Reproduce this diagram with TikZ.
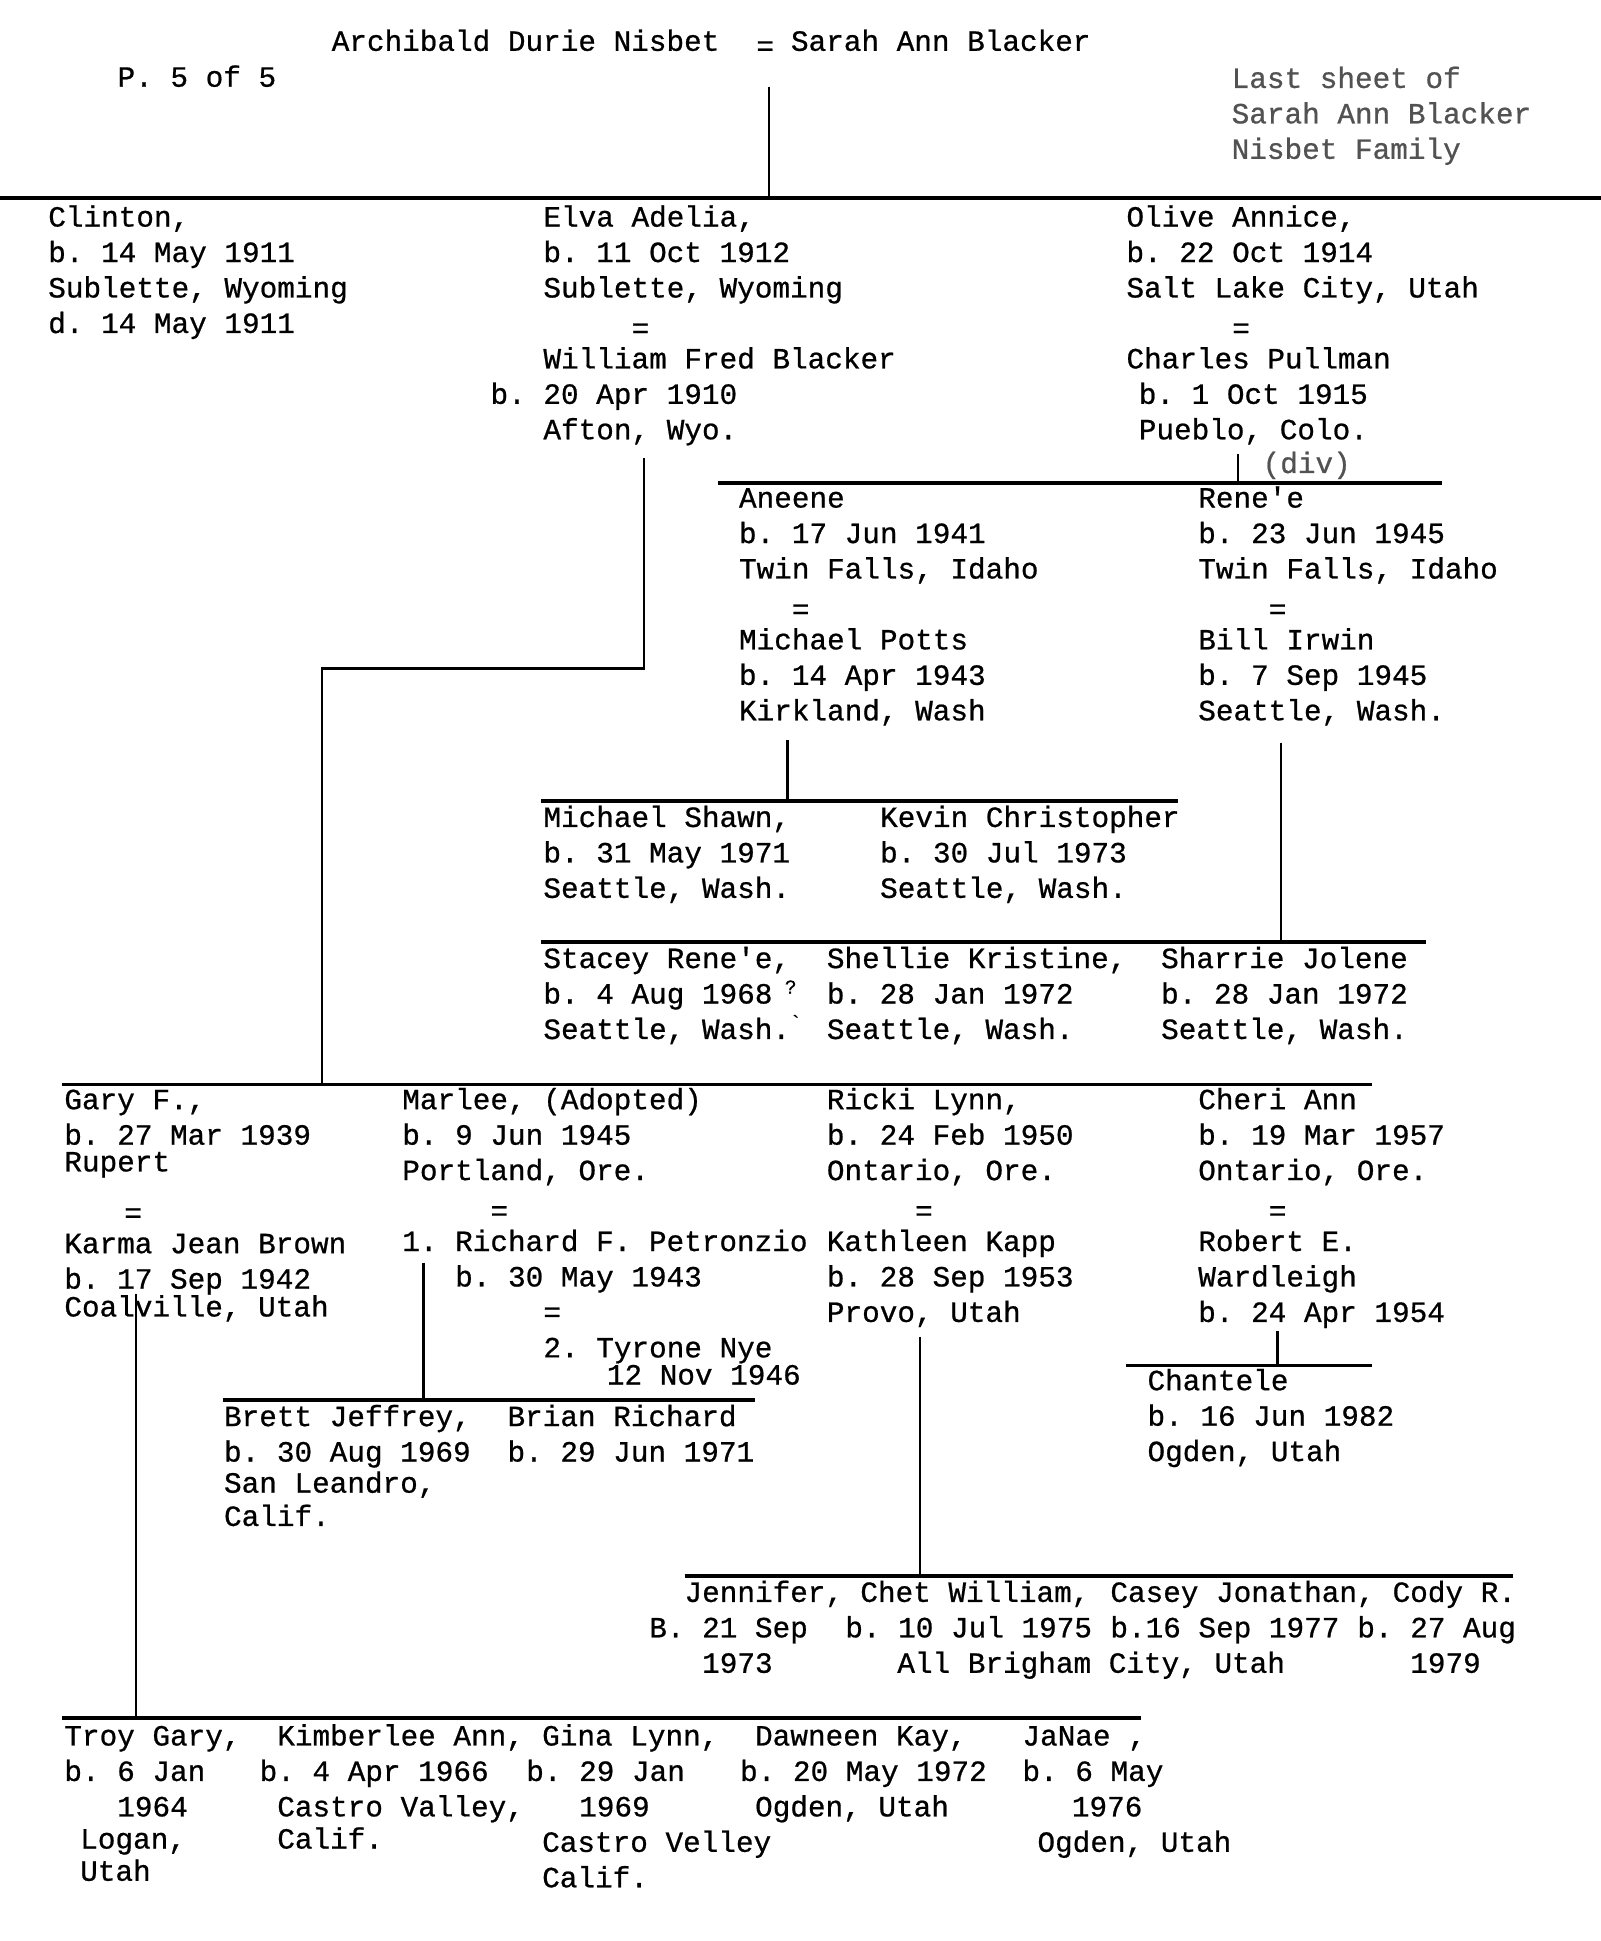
\documentclass[tikz,border=0pt]{standalone}
\usepackage{fontspec}
\setmonofont{Liberation Mono}[FakeBold=0.7]
\newlength\cw
\setlength\cw{0.285cm}
\newcommand\ind[1]{\hspace*{#1\cw}}
\newcommand\eqs{\raisebox{-2.3pt}{=}}
\tikzset{
  person/.style={anchor=north west, inner sep=0pt, outer sep=0pt, align=left,
    font=\ttfamily\fontsize{13.5pt}{16.3pt}\selectfont\frenchspacing},
  faint/.style={person, text=black!68},
  tinymark/.style={person, font=\ttfamily\fontsize{9pt}{10pt}\selectfont},
  hline/.style={line width=1.6pt, black},
  vline/.style={line width=1.1pt, black}
}
\begin{document}
\begin{tikzpicture}[x=0.02cm, y=-0.02cm]
\fill[white] (0,0) rectangle (1293,1568);
\useasboundingbox (0,0) rectangle (1293,1568);

% ---------- header ----------
\node[person] (adn) at (268,21) {\strut Archibald Durie Nisbet};
\node[person] (eqtop) at (611,25) {\strut =};
\node[person] (sab) at (639,21) {\strut Sarah Ann Blacker};
\node[person] (page) at (95,50) {\strut P. 5 of 5};
\node[faint] (note) at (995,51) {\strut Last sheet of\\Sarah Ann Blacker\\Nisbet Family};

\coordinate (p0) at (621,70);
\coordinate (p1) at (621,160);
\coordinate (b0w) at (0,160);
\coordinate (b0e) at (1293,160);
\draw[vline] (p0) -- (p1);
\draw[hline] (b0w) -- (b0e);

% ---------- children of A.D. Nisbet ----------
\node[person] (clinton) at (39,163) {\strut Clinton,\\b. 14 May 1911\\Sublette, Wyoming\\d. 14 May 1911};
\node[person] (elva) at (439,163) {\strut Elva Adelia,\\b. 11 Oct 1912\\Sublette, Wyoming\\\ind{5}\eqs\\William Fred Blacker\\\ind{-3}b. 20 Apr 1910\\Afton, Wyo.};
\node[person] (olive) at (910,163) {\strut Olive Annice,\\b. 22 Oct 1914\\Salt Lake City, Utah\\\ind{6}\eqs\\Charles Pullman\\\ind{0.7}b. 1 Oct 1915\\\ind{0.7}Pueblo, Colo.};
\node[faint] (div) at (1020,362) {\strut (div)};

% Olive's children
\coordinate (o1) at (1000,367);
\coordinate (o2) at (1000,390);
\coordinate (b1w) at (580,390);
\coordinate (b1e) at (1165,390);
\draw[vline] (o1) -- (o2);
\draw[hline] (b1w) -- (b1e);

\node[person] (aneene) at (597,390) {\strut Aneene\\b. 17 Jun 1941\\Twin Falls, Idaho\\\ind{3}\eqs\\Michael Potts\\b. 14 Apr 1943\\Kirkland, Wash};
\node[person] (renee) at (968,390) {\strut Rene'e\\b. 23 Jun 1945\\Twin Falls, Idaho\\\ind{4}\eqs\\Bill Irwin\\b. 7 Sep 1945\\Seattle, Wash.};

% Aneene's children
\coordinate (a1) at (636,598);
\coordinate (a2) at (636,647);
\coordinate (b2w) at (437,647);
\coordinate (b2e) at (952,647);
\draw[vline] (a1) -- (a2);
\draw[hline] (b2w) -- (b2e);
\node[person] (mshawn) at (439,648) {\strut Michael Shawn,\\b. 31 May 1971\\Seattle, Wash.};
\node[person] (kevin) at (711,648) {\strut Kevin Christopher\\b. 30 Jul 1973\\Seattle, Wash.};

% Rene'e's children
\coordinate (r1) at (1035,600);
\coordinate (r2) at (1035,761);
\coordinate (b3w) at (437,761);
\coordinate (b3e) at (1152,761);
\draw[vline] (r1) -- (r2);
\draw[hline] (b3w) -- (b3e);
\node[person] (stacey) at (439,762) {\strut Stacey Rene'e,\\b. 4 Aug 1968\\Seattle, Wash.};
\node[tinymark] (qm) at (634,792) {?};
\node[tinymark] (bq) at (638,820) {`};
\node[person] (shellie) at (668,762) {\strut Shellie Kristine,\\b. 28 Jan 1972\\Seattle, Wash.};
\node[person] (sharrie) at (938,762) {\strut Sharrie Jolene\\b. 28 Jan 1972\\Seattle, Wash.};

% Elva's children
\coordinate (e1) at (520,370);
\coordinate (e2) at (520,540);
\coordinate (e3) at (260,540);
\coordinate (e4) at (260,876);
\coordinate (b4w) at (50,876);
\coordinate (b4e) at (1108,876);
\draw[vline] (e1) -- (e2) -- (e3) -- (e4);
\draw[hline] (b4w) -- (b4e);

\node[person] (gary) at (52,876) {\strut Gary F.,\\b. 27 Mar 1939\\[-4pt]Rupert\\[5pt]\ind{3.4}\eqs\\Karma Jean Brown\\b. 17 Sep 1942\\[-3.5pt]Coalville, Utah};
\node[person] (marlee) at (325,876) {\strut Marlee, (Adopted)\\b. 9 Jun 1945\\Portland, Ore.\\\ind{5}\eqs\\1. Richard F. Petronzio\\\ind{3}b. 30 May 1943\\\ind{8}=\\\ind{8}2. Tyrone Nye\\[-3.8pt]\ind{11.6}12 Nov 1946};
\node[person] (ricki) at (668,876) {\strut Ricki Lynn,\\b. 24 Feb 1950\\Ontario, Ore.\\\ind{5}\eqs\\Kathleen Kapp\\b. 28 Sep 1953\\Provo, Utah};
\node[person] (cheri) at (968,876) {\strut Cheri Ann\\b. 19 Mar 1957\\Ontario, Ore.\\\ind{4}\eqs\\Robert E.\\Wardleigh\\b. 24 Apr 1954};

% Cheri's child
\coordinate (c1) at (1032,1075);
\coordinate (c2) at (1032,1103);
\coordinate (b5w) at (910,1103);
\coordinate (b5e) at (1108,1103);
\draw[vline] (c1) -- (c2);
\draw[hline] (b5w) -- (b5e);
\node[person] (chantele) at (927,1103) {\strut Chantele\\b. 16 Jun 1982\\Ogden, Utah};

% Marlee's children
\coordinate (m1) at (342,1020);
\coordinate (m2) at (342,1131);
\coordinate (b6w) at (180,1131);
\coordinate (b6e) at (610,1131);
\draw[vline] (m1) -- (m2);
\draw[hline] (b6w) -- (b6e);
\node[person] (brett) at (181,1132) {\strut Brett Jeffrey,\\b. 30 Aug 1969\\[-2pt]San Leandro,\\[-1pt]Calif.};
\node[person] (brian) at (410,1132) {\strut Brian Richard\\b. 29 Jun 1971};

% Ricki's children
\coordinate (k1) at (743,1080);
\coordinate (k2) at (743,1273);
\coordinate (b7w) at (553,1273);
\coordinate (b7e) at (1222,1273);
\draw[vline] (k1) -- (k2);
\draw[hline] (b7w) -- (b7e);
\node[person] (jennifer) at (553,1274) {\strut Jennifer,\\\ind{-2}B. 21 Sep\\\ind{1}1973};
\node[person] (chet) at (695,1274) {\strut Chet William,\\\ind{-0.85}b. 10 Jul 1975\\\ind{2.1}All Brigham City, Utah};
\node[person] (casey) at (897,1274) {\strut Casey Jonathan,\\b.16 Sep 1977};
\node[person] (cody) at (1125,1274) {\strut Cody R.\\\ind{-2}b. 27 Aug\\\ind{1}1979};

% Gary's children
\coordinate (g1) at (110,1045);
\coordinate (g2) at (110,1388);
\coordinate (b8w) at (50,1388);
\coordinate (b8e) at (922,1388);
\draw[vline] (g1) -- (g2);
\draw[hline] (b8w) -- (b8e);
\node[person] (troy) at (52,1390) {\strut Troy Gary,\\b. 6 Jan\\\ind{3}1964\\[-1.5pt]\ind{0.9}Logan,\\[-1.5pt]\ind{0.9}Utah};
\node[person] (kimberlee) at (224,1390) {\strut Kimberlee Ann,\\\ind{-1}b. 4 Apr 1966\\Castro Valley,\\[-1.5pt]Calif.};
\node[person] (gina) at (438,1390) {\strut Gina Lynn,\\\ind{-0.9}b. 29 Jan\\\ind{2.1}1969\\Castro Velley\\Calif.};
\node[person] (dawneen) at (610,1390) {\strut Dawneen Kay,\\\ind{-0.85}b. 20 May 1972\\Ogden, Utah};
\node[person] (janae) at (826,1390) {\strut JaNae ,\\b. 6 May\\\ind{2.8}1976\\\ind{0.85}Ogden, Utah};
\end{tikzpicture}
\end{document}
